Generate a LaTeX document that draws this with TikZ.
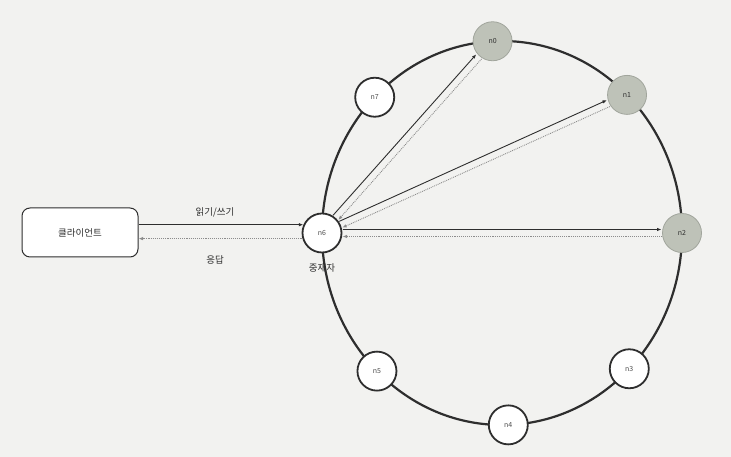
\documentclass[tikz,border=0pt]{standalone}
\usepackage{fontspec}
\newfontfamily\kr{Noto Sans CJK KR}
\usetikzlibrary{calc,arrows.meta}
\definecolor{bg}{HTML}{F2F2F0}
\definecolor{ink}{HTML}{2E2E2E}
\definecolor{nodegray}{HTML}{BEC2B8}
\definecolor{light}{HTML}{8C8C8C}
\begin{document}
\begin{tikzpicture}[x=1pt,y=1pt,
  ringnode/.style={circle,draw=ink,line width=1.8pt,fill=white,minimum size=39pt,inner sep=0pt,font=\kr\fontsize{7}{8}\selectfont,text=ink!85},
  hotnode/.style={ringnode,draw=nodegray!85!black,line width=0.8pt,fill=nodegray,text=ink},
  req/.style={draw=ink,line width=0.9pt,-{Latex[length=4.5pt,width=3.5pt]}},
  resp/.style={draw=light,line width=0.9pt,densely dotted,-{Latex[length=4.5pt,width=3.5pt]}},
  lbl/.style={font=\kr\fontsize{9.5}{11}\selectfont,text=ink}]
\fill[bg] (0,0) rectangle (731,457);
\coordinate (c) at (502,224);
\draw[ink,line width=2.2pt] (c) ellipse [x radius=180,y radius=192];
\node[hotnode]  (n0) at ($(c)+(93:180 and 192)$) {n0};
\node[hotnode]  (n1) at ($(c)+(46:180 and 192)$) {n1};
\node[hotnode]  (n2) at ($(c)+(0:180 and 192)$) {n2};
\node[ringnode] (n3) at ($(c)+(-45:180 and 192)$) {n3};
\node[ringnode] (n4) at ($(c)+(-88:180 and 192)$) {n4};
\node[ringnode] (n5) at ($(c)+(-134:180 and 192)$) {n5};
\node[ringnode] (n6) at ($(c)+(180:180 and 192)$) {n6};
\node[ringnode] (n7) at ($(c)+(135:180 and 192)$) {n7};
\node[lbl] (coord) at ($(n6.south)+(0,-15)$) {중재자};
\node[draw=ink,line width=1pt,rounded corners=8pt,minimum width=116pt,minimum height=49pt,fill=white,lbl] (client) at (80,224.5) {클라이언트};
\draw[req] (client.east |- n6.156) -- (n6.156);
\draw[resp] (n6.196) -- (client.east |- n6.196);
\node[lbl] (rw) at (215,245) {읽기/쓰기};
\node[lbl] (ans) at (215,197) {응답};
\foreach \t in {n0,n1,n2}{
  \draw[req,shorten <=20.5pt,shorten >=20.5pt] ($(n6)!3.5pt!90:(\t)$) -- ($(\t)!3.5pt!-90:(n6)$);
  \draw[resp,shorten <=20.5pt,shorten >=20.5pt] ($(\t)!3.5pt!90:(n6)$) -- ($(n6)!3.5pt!-90:(\t)$);
}
\end{tikzpicture}
\end{document}
